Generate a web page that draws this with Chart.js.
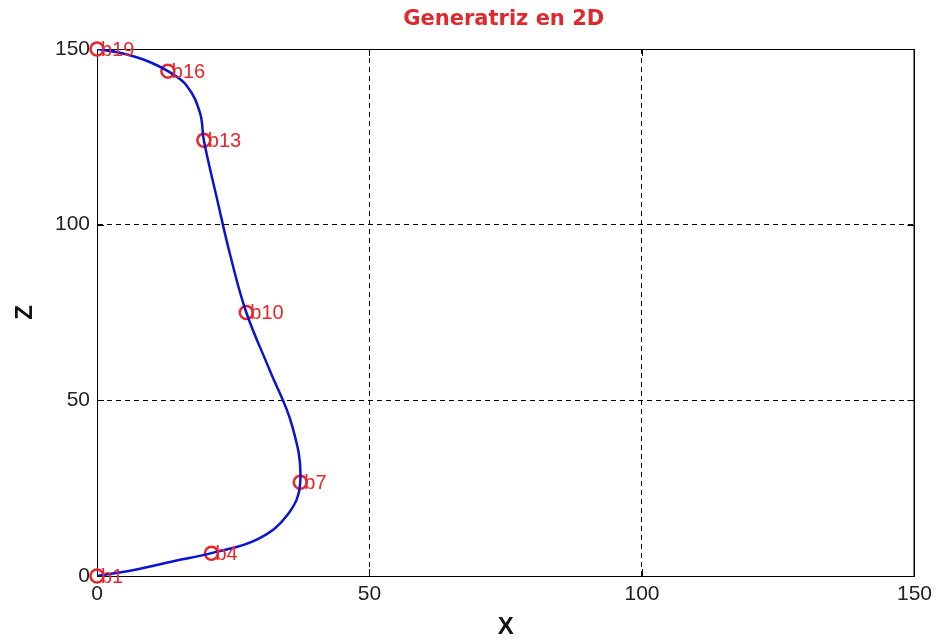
<!DOCTYPE html>
<html>
<head>
<meta charset="utf-8">
<script src="https://cdn.jsdelivr.net/npm/chart.js@4/dist/chart.umd.min.js"></script>
<style>
  html, body { margin: 0; padding: 0; background: #fff; }
  #wrap { width: 938px; height: 642px; }
</style>
</head>
<body>
<div id="wrap"><canvas id="genChart" width="938" height="642"></canvas></div>
<script>
// generatrix points b1..b19 (x, z)
const pointX = [0, 7, 14, 21, 29.5, 35, 37.3, 35.8, 31.6, 27.4, 24.5, 22, 19.6, 18.9, 16.5, 13, 8.5, 4, 0];
const pointZ = [0, 1.8, 4.2, 6.5, 10.5, 17.5, 26.7, 42.8, 58.9, 75, 91, 107.5, 124, 131.8, 139.5, 143.7, 147, 149, 150];
const markedIdx = [0, 3, 6, 9, 12, 15, 18];
const markLabels = ['b1', 'b4', 'b7', 'b10', 'b13', 'b16', 'b19'];
const xTicks = [0, 50, 100, 150];
const zTicks = [0, 50, 100, 150];

const curve = pointX.map((x, i) => ({ x: x, y: pointZ[i] }));
const marks = markedIdx.map(i => ({ x: pointX[i], y: pointZ[i] }));

// title, inner tick marks, solid frame and point labels
const extras = {
    id: 'extras',
    beforeDatasetsDraw(chart) {
        const { ctx, chartArea: a, scales } = chart;
        ctx.save();
        ctx.strokeStyle = '#000';
        ctx.lineWidth = 1;
        ctx.setLineDash([]);
        ctx.strokeRect(a.left + 0.5, a.top + 0.5, a.right - a.left - 1, a.bottom - a.top);
        ctx.beginPath();
        xTicks.forEach(v => {
            const px = Math.round(scales.x.getPixelForValue(v)) + 0.5;
            ctx.moveTo(px, a.bottom); ctx.lineTo(px, a.bottom - 7);
            ctx.moveTo(px, a.top); ctx.lineTo(px, a.top + 7);
        });
        zTicks.forEach(v => {
            const py = Math.round(scales.y.getPixelForValue(v)) + 0.5;
            ctx.moveTo(a.left, py); ctx.lineTo(a.left + 7, py);
            ctx.moveTo(a.right, py); ctx.lineTo(a.right - 7, py);
        });
        ctx.stroke();

        ctx.fillStyle = '#dd2a2e';
        ctx.font = 'bold 21px "DejaVu Sans", sans-serif';
        ctx.textAlign = 'center';
        ctx.textBaseline = 'middle';
        ctx.fillText('Generatriz en 2D', (a.left + a.right) / 2 - 2, 20);
        ctx.restore();
    },
    afterDatasetsDraw(chart) {
        const { ctx, scales } = chart;
        ctx.save();
        ctx.fillStyle = '#e8262b';
        ctx.font = '20px "Liberation Sans", Arial, sans-serif';
        ctx.textAlign = 'left';
        ctx.textBaseline = 'middle';
        marks.forEach((p, i) => {
            const px = scales.x.getPixelForValue(p.x);
            const py = scales.y.getPixelForValue(p.y);
            ctx.fillText(markLabels[i], px + 4, py + 1);
        });
        ctx.restore();
    }
};

const gridDash = ctx => (ctx.tick && (ctx.tick.value === 0 || ctx.tick.value === 150)) ? [] : [5, 4];

new Chart(document.getElementById('genChart'), {
    type: 'scatter',
    data: {
        datasets: [{
            data: curve,
            showLine: true,
            borderColor: '#0a14d0',
            borderWidth: 2.5,
            tension: 0.4,
            pointRadius: 0
        }, {
            data: marks,
            showLine: false,
            clip: false,
            pointRadius: 6.5,
            pointBorderWidth: 2.5,
            pointBorderColor: '#e8262b',
            pointBackgroundColor: 'rgba(0,0,0,0)'
        }]
    },
    options: {
        responsive: false,
        animation: false,
        layout: { padding: { left: 0, right: 19, top: 49, bottom: 0 } },
        plugins: {
            legend: { display: false },
            tooltip: { enabled: false },
            title: { display: false }
        },
        scales: {
            x: {
                type: 'linear',
                min: 0,
                max: 150,
                afterBuildTicks: s => { s.ticks = xTicks.map(v => ({ value: v })); },
                afterFit: s => { s.height = 66; },
                grid: { color: '#000', drawTicks: false, lineWidth: 1 },
                border: { color: '#000', dash: gridDash },
                ticks: {
                    color: '#222',
                    padding: 6,
                    font: { family: '"Liberation Sans", Arial, sans-serif', size: 21 }
                },
                title: {
                    display: true,
                    text: 'X',
                    color: '#111',
                    padding: { top: 0, bottom: 0 },
                    font: { family: '"Liberation Sans", Arial, sans-serif', size: 24, weight: 'bold', lineHeight: 1.2 }
                }
            },
            y: {
                type: 'linear',
                min: 0,
                max: 150,
                afterBuildTicks: s => { s.ticks = zTicks.map(v => ({ value: v })); },
                afterFit: s => { s.width = 97; },
                grid: { color: '#000', drawTicks: false, lineWidth: 1 },
                border: { color: '#000', dash: gridDash },
                ticks: {
                    color: '#222',
                    padding: 7,
                    font: { family: '"Liberation Sans", Arial, sans-serif', size: 21 }
                },
                title: {
                    display: true,
                    text: 'Z',
                    color: '#111',
                    padding: { top: 11, bottom: 0 },
                    font: { family: '"Liberation Sans", Arial, sans-serif', size: 24, weight: 'bold', lineHeight: 1.2 }
                }
            }
        }
    },
    plugins: [extras]
});
</script>
</body>
</html>
